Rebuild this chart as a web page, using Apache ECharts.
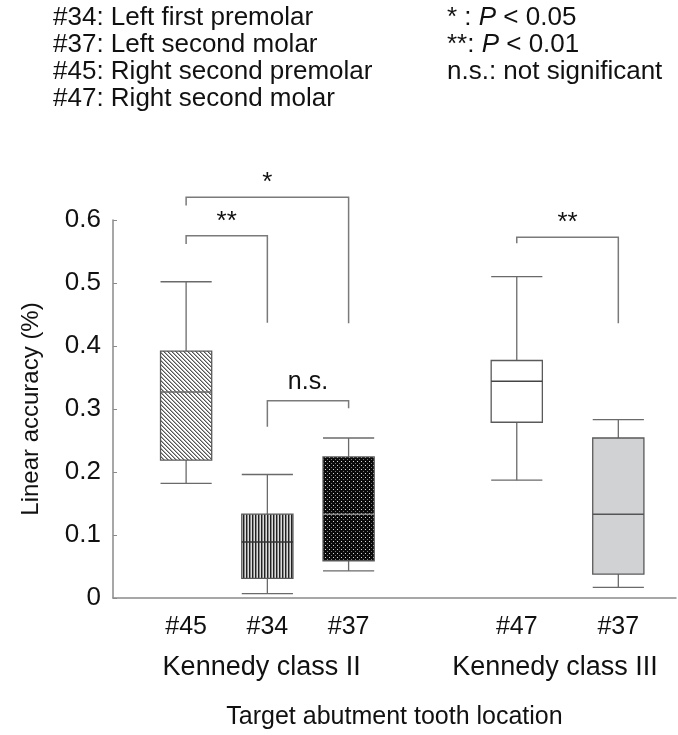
<!DOCTYPE html>
<html lang="en">
<head>
    <meta charset="UTF-8">
    <title>Linear accuracy by abutment tooth</title>
    <script src="https://cdn.jsdelivr.net/npm/echarts@6.0.0/dist/echarts.min.js"></script>
    <style>
        html, body { margin: 0; padding: 0; background: #fff; }
        #chart { width: 678px; height: 735px; }
    </style>
</head>
<body>
    <div id="chart"></div>

    <script>
        // Box data (x position on the location axis, then five-number summary)
        var toothLabels = ['#45', '#34', '#37', '#47', '#37'];
        var toothPos = [0.9, 1.9, 2.9, 4.97, 6.22];
        var whiskerLow = [0.182, 0.007, 0.043, 0.187, 0.017];
        var quart1 = [0.219, 0.031, 0.059, 0.279, 0.038];
        var medians = [0.327, 0.089, 0.133, 0.344, 0.133];
        var quart3 = [0.392, 0.133, 0.224, 0.377, 0.254];
        var whiskerHigh = [0.502, 0.196, 0.254, 0.510, 0.283];

        var groupLabels = ['Kennedy class II', 'Kennedy class III'];
        var groupPos = [1.83, 5.44];

        // Significance brackets: from box, to box, top, left leg end, right leg end
        var bracketFrom = [0, 0, 1, 3];
        var bracketTo = [2, 1, 2, 4];
        var bracketTop = [0.636, 0.575, 0.313, 0.5725];
        var bracketLeftEnd = [0.623, 0.562, 0.272, 0.563];
        var bracketRightEnd = [0.436, 0.437, 0.301, 0.436];
        var bracketText = ['*', '**', 'n.s.', '**'];

        var legendLeft = ['#34: Left first premolar', '#37: Left second molar',
            '#45: Right second premolar', '#47: Right second molar'];

        var FONT = '"Liberation Sans", Arial, sans-serif';

        // small canvas tiles used as fill patterns
        function tile(w, h, bg, pixels) {
            var c = document.createElement('canvas');
            c.width = w; c.height = h;
            var ctx = c.getContext('2d');
            ctx.fillStyle = bg;
            ctx.fillRect(0, 0, w, h);
            pixels.forEach(function (p) {
                ctx.fillStyle = p[2];
                ctx.fillRect(p[0], p[1], 1, 1);
            });
            return { image: c, repeat: 'repeat' };
        }
        var hatch = tile(4, 4, '#ffffff', [
            [0, 0, '#555'], [1, 1, '#555'], [2, 2, '#555'], [3, 3, '#555'],
            [1, 0, '#aaa'], [2, 1, '#aaa'], [3, 2, '#aaa'], [0, 3, '#aaa']
        ]);
        var stripes = tile(3, 1, '#dcdcdc', [[0, 0, '#222'], [1, 0, '#8a8a8a']]);
        var dots = tile(4, 4, '#0a0a0a', [[1, 1, '#d8d8d8'], [3, 3, '#7a7a7a']]);

        var boxFills = [hatch, stripes, dots, '#ffffff', '#d1d2d4'];
        var medianColors = ['#666', '#333', '#888', '#444', '#555'];

        var boxData = toothPos.map(function (p, i) {
            return [p, whiskerLow[i], quart1[i], medians[i], quart3[i], whiskerHigh[i]];
        });
        var bracketData = bracketFrom.map(function (f, i) {
            return [toothPos[f], toothPos[bracketTo[i]], bracketTop[i],
                bracketLeftEnd[i], bracketRightEnd[i]];
        });

        var chart = echarts.init(document.getElementById('chart'));

        var textTop = [];
        legendLeft.forEach(function (t, i) {
            textTop.push({
                type: 'text', left: 53, top: 5 + i * 27,
                style: { text: t, font: '26px ' + FONT, fill: '#111' }
            });
        });
        var legendRight = [
            '* : {i|P} < 0.05',
            '**: {i|P} < 0.01',
            'n.s.: not significant'
        ];
        legendRight.forEach(function (t, i) {
            textTop.push({
                type: 'text', left: 447, top: 5 + i * 27,
                style: {
                    text: t, font: '26px ' + FONT, fill: '#111',
                    rich: { i: { fontStyle: 'italic', fontSize: 26, fontFamily: FONT, fill: '#111' } }
                }
            });
        });

        var option = {
            animation: false,
            textStyle: { fontFamily: FONT },
            graphic: textTop,
            grid: { left: 113, right: 2, top: 220, bottom: 137 },
            xAxis: [{
                type: 'value', min: 0, max: 6.93,
                position: 'bottom',
                axisLine: { show: true, lineStyle: { color: '#8a8a8a', width: 1.5 } },
                axisTick: { show: false },
                splitLine: { show: false },
                axisLabel: {
                    customValues: toothPos,
                    margin: 17,
                    fontSize: 25, color: '#111', fontFamily: FONT,
                    formatter: function (v) { return toothLabels[toothPos.indexOf(v)]; }
                },
                name: 'Target abutment tooth location',
                nameLocation: 'middle',
                nameGap: 107,
                nameTextStyle: { fontSize: 25, color: '#111', fontFamily: FONT }
            }, {
                type: 'value', min: 0, max: 6.93,
                position: 'bottom',
                axisLine: { show: false },
                axisTick: { show: false },
                splitLine: { show: false },
                axisLabel: {
                    customValues: groupPos,
                    margin: 56,
                    fontSize: 27, color: '#111', fontFamily: FONT,
                    formatter: function (v) { return groupLabels[groupPos.indexOf(v)]; }
                }
            }],
            yAxis: {
                type: 'value', min: 0, max: 0.6, interval: 0.1,
                axisLine: { show: true, lineStyle: { color: '#8a8a8a', width: 1.5 } },
                axisTick: { show: true, inside: true, length: 4, lineStyle: { color: '#8a8a8a' } },
                splitLine: { show: false },
                axisLabel: {
                    margin: 12, fontSize: 26, color: '#111', fontFamily: FONT,
                    formatter: function (v) { return v === 0 ? '0' : v.toFixed(1); }
                },
                name: 'Linear accuracy (%)',
                nameLocation: 'middle',
                nameGap: 70,
                nameTextStyle: { fontSize: 24, color: '#111', fontFamily: FONT }
            },
            series: [{
                type: 'custom',
                clip: false,
                xAxisIndex: 0,
                data: boxData,
                renderItem: function (params, api) {
                    var i = params.dataIndex;
                    var x = api.value(0);
                    var half = api.size([0.63, 0])[0] / 2;
                    var c = api.coord([x, api.value(1)]);
                    var pLow = c[1];
                    var pQ1 = api.coord([x, api.value(2)])[1];
                    var pMed = api.coord([x, api.value(3)])[1];
                    var pQ3 = api.coord([x, api.value(4)])[1];
                    var pHigh = api.coord([x, api.value(5)])[1];
                    var cx = c[0];
                    var line = { stroke: '#6a6a6a', lineWidth: 1.3 };
                    return {
                        type: 'group',
                        children: [
                            { type: 'line', shape: { x1: cx, y1: pHigh, x2: cx, y2: pQ3 }, style: line },
                            { type: 'line', shape: { x1: cx, y1: pQ1, x2: cx, y2: pLow }, style: line },
                            { type: 'line', shape: { x1: cx - half, y1: pHigh, x2: cx + half, y2: pHigh }, style: line },
                            { type: 'line', shape: { x1: cx - half, y1: pLow, x2: cx + half, y2: pLow }, style: line },
                            {
                                type: 'rect',
                                shape: { x: cx - half, y: pQ3, width: half * 2, height: pQ1 - pQ3 },
                                style: { fill: boxFills[i], stroke: '#5a5a5a', lineWidth: 1.3 }
                            },
                            {
                                type: 'line',
                                shape: { x1: cx - half, y1: pMed, x2: cx + half, y2: pMed },
                                style: { stroke: medianColors[i], lineWidth: 1.5 }
                            }
                        ]
                    };
                }
            }, {
                type: 'custom',
                clip: false,
                xAxisIndex: 0,
                data: bracketData,
                renderItem: function (params, api) {
                    var i = params.dataIndex;
                    var a = api.coord([api.value(0), api.value(2)]);
                    var b = api.coord([api.value(1), api.value(2)]);
                    var yl = api.coord([api.value(0), api.value(3)])[1];
                    var yr = api.coord([api.value(1), api.value(4)])[1];
                    var st = { stroke: '#7a7a7a', lineWidth: 1.5, fill: null };
                    var isStar = bracketText[i].charAt(0) === '*';
                    return {
                        type: 'group',
                        children: [
                            {
                                type: 'polyline',
                                shape: { points: [[a[0], yl], [a[0], a[1]], [b[0], b[1]], [b[0], yr]] },
                                style: st
                            },
                            {
                                type: 'text',
                                x: (a[0] + b[0]) / 2,
                                y: a[1] - (isStar ? 1 : 6),
                                style: {
                                    text: bracketText[i],
                                    font: (isStar ? '26px ' : '25px ') + FONT,
                                    fill: '#111',
                                    align: 'center',
                                    verticalAlign: 'bottom'
                                }
                            }
                        ]
                    };
                }
            }]
        };

        chart.setOption(option);
    </script>
</body>
</html>
